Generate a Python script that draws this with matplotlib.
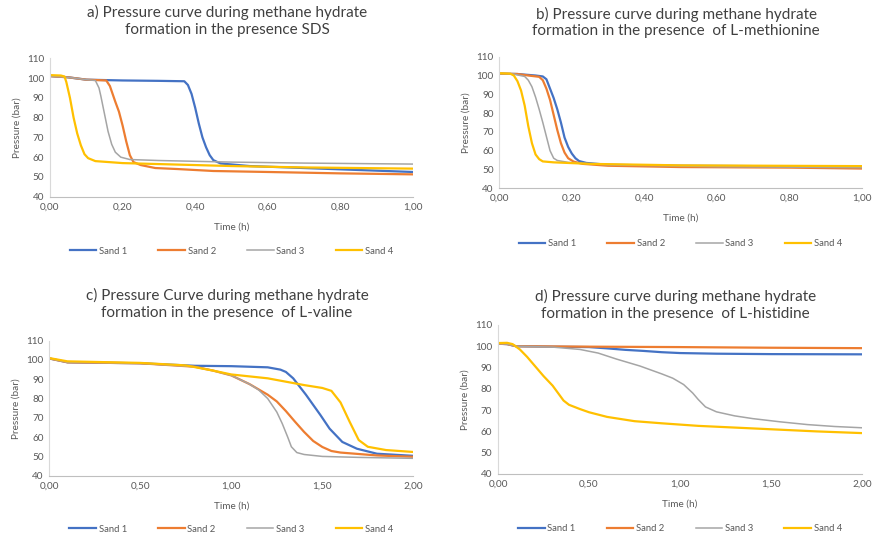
import matplotlib
matplotlib.use("Agg")
import matplotlib.pyplot as plt

plt.rcParams['font.family'] = ['Lato', 'DejaVu Sans']

series_names = ["Sand 1", "Sand 2", "Sand 3", "Sand 4"]
colors = ["#4472C4", "#ED7D31", "#A5A5A5", "#FFC000"]
widths = [1.6, 1.6, 1.1, 1.6]

# a) SDS
a_t1 = [0, 0.05, 0.10, 0.20, 0.30, 0.37, 0.38, 0.39, 0.40, 0.41, 0.42, 0.43, 0.44, 0.45, 0.47, 0.55, 0.70, 0.85, 1.00]
a_p1 = [101, 100.4, 99.2, 98.8, 98.6, 98.4, 96.5, 92, 85, 77, 70, 65, 61, 58.5, 56.8, 55.5, 54.5, 53.5, 52.5]
a_t2 = [0, 0.05, 0.10, 0.155, 0.165, 0.18, 0.19, 0.20, 0.21, 0.22, 0.23, 0.25, 0.29, 0.35, 0.45, 0.60, 0.80, 1.00]
a_p2 = [101, 100.4, 99.2, 98.8, 96, 88, 83, 76, 68, 61, 57.5, 56, 54.5, 54, 53, 52.5, 51.8, 51.3]
a_t3 = [0, 0.05, 0.10, 0.125, 0.135, 0.14, 0.15, 0.16, 0.17, 0.18, 0.195, 0.22, 0.30, 0.50, 0.70, 1.00]
a_p3 = [101, 100.4, 99.2, 98.8, 95, 91, 82, 73, 66.5, 62.5, 60, 58.8, 58.3, 57.5, 57, 56.5]
a_t4 = [0, 0.03, 0.04, 0.045, 0.055, 0.065, 0.075, 0.085, 0.095, 0.105, 0.125, 0.20, 0.30, 0.50, 0.70, 1.00]
a_p4 = [101.5, 101.3, 100.8, 98, 90, 80, 72, 66, 61.5, 59.5, 58, 57, 56.5, 55.5, 54.8, 54.2]

# b) L-methionine
b_t1 = [0, 0.05, 0.10, 0.12, 0.13, 0.14, 0.15, 0.16, 0.17, 0.18, 0.19, 0.20, 0.21, 0.22, 0.24, 0.30, 0.50, 0.80, 1.00]
b_p1 = [101, 100.8, 100, 99.5, 98, 93, 88, 82, 75, 67, 62, 58.5, 56, 54.5, 53.5, 52.5, 52, 51.7, 51.5]
b_t2 = [0, 0.05, 0.08, 0.11, 0.12, 0.13, 0.14, 0.15, 0.16, 0.17, 0.18, 0.19, 0.205, 0.23, 0.30, 0.50, 0.80, 1.00]
b_p2 = [101, 100.8, 100, 99.3, 97.5, 93, 87, 79, 71, 64, 59, 56, 54.2, 53, 52, 51.3, 51, 50.5]
b_t3 = [0, 0.04, 0.05, 0.07, 0.08, 0.09, 0.10, 0.11, 0.12, 0.13, 0.14, 0.15, 0.16, 0.19, 0.30, 0.60, 1.00]
b_p3 = [101, 100.8, 100.3, 99.5, 97.5, 94, 88.5, 82, 75, 67.5, 60, 56, 54.8, 53.8, 52.5, 51.5, 51]
b_t4 = [0, 0.03, 0.04, 0.05, 0.06, 0.07, 0.08, 0.09, 0.10, 0.11, 0.12, 0.15, 0.25, 0.50, 1.00]
b_p4 = [101.2, 101, 100, 97, 92, 84, 73, 64, 58, 55.5, 54.3, 53.8, 53, 52.2, 51.8]

# c) L-valine
c_t1 = [0, 0.05, 0.10, 0.50, 0.80, 1.00, 1.20, 1.27, 1.30, 1.34, 1.41, 1.49, 1.54, 1.61, 1.69, 1.80, 2.00]
c_p1 = [100.8, 99.8, 98.8, 98.3, 97, 96.8, 96.2, 95, 93.8, 90.5, 82, 71.4, 64.4, 57.5, 54, 51.4, 50.3]
c_t2 = [0, 0.10, 0.50, 0.80, 0.90, 1.00, 1.10, 1.20, 1.25, 1.30, 1.35, 1.40, 1.45, 1.50, 1.55, 1.60, 1.80, 2.00]
c_p2 = [100.8, 98.8, 98.3, 96.5, 94.5, 92, 87.5, 82, 78.5, 73.5, 68, 62.7, 58, 54.9, 52.8, 52, 50.5, 49.8]
c_t3 = [0, 0.10, 0.50, 0.80, 0.90, 1.00, 1.10, 1.15, 1.20, 1.25, 1.28, 1.31, 1.33, 1.36, 1.40, 1.50, 1.70, 2.00]
c_p3 = [100.8, 98.8, 98.3, 96.5, 94.5, 92, 87.5, 84.5, 80, 73, 67, 60, 55, 52, 51, 50, 49.5, 49]
c_t4 = [0, 0.10, 0.50, 0.75, 0.90, 1.00, 1.20, 1.40, 1.50, 1.55, 1.60, 1.65, 1.70, 1.75, 1.85, 2.00]
c_p4 = [101, 99.3, 98.5, 97.2, 94.5, 92.5, 90.5, 87, 85.5, 84, 78, 68, 58.5, 55, 53.3, 52.3]

# d) L-histidine
d_t1 = [0, 0.05, 0.10, 0.30, 0.50, 0.60, 0.70, 0.80, 0.90, 1.00, 1.20, 1.50, 2.00]
d_p1 = [101.2, 101, 100, 99.8, 99.6, 99, 98.3, 97.8, 97.2, 96.8, 96.5, 96.3, 96.2]
d_t2 = [0, 0.05, 0.10, 0.50, 1.00, 1.50, 2.00]
d_p2 = [101.2, 101, 100, 99.8, 99.6, 99.3, 99.1]
d_t3 = [0, 0.05, 0.10, 0.30, 0.45, 0.55, 0.65, 0.78, 0.90, 0.96, 1.02, 1.07, 1.10, 1.14, 1.20, 1.30, 1.40, 1.55, 1.70, 1.85, 2.00]
d_p3 = [101.2, 101, 100, 99.6, 98.5, 96.8, 94, 90.7, 87, 85, 82, 78, 75, 71.5, 69.2, 67.3, 66, 64.5, 63.2, 62.3, 61.7]
d_t4 = [0, 0.05, 0.08, 0.12, 0.16, 0.20, 0.25, 0.30, 0.33, 0.36, 0.39, 0.45, 0.50, 0.60, 0.75, 0.90, 1.10, 1.30, 1.50, 1.75, 2.00]
d_p4 = [101.5, 101.6, 101, 98.5, 95, 91, 86, 81.5, 78, 74.5, 72.5, 70.5, 69, 66.8, 64.8, 63.8, 62.6, 61.8, 61, 60, 59.2]

titles = [
    "a) Pressure curve during methane hydrate\nformation in the presence SDS",
    "b) Pressure curve during methane hydrate\nformation in the presence  of L-methionine",
    "c) Pressure Curve during methane hydrate\nformation in the presence  of L-valine",
    "d) Pressure curve during methane hydrate\nformation in the presence  of L-histidine",
]

fig = plt.figure(figsize=(8.74, 5.38), dpi=100)

panels = [
    # axes rect, title y, data, xticks, legend y
    ([0.0572, 0.6344, 0.4153, 0.2572], 0.990, [(a_t1, a_p1), (a_t2, a_p2), (a_t3, a_p3), (a_t4, a_p4)],
     [0, 0.2, 0.4, 0.6, 0.8, 1.0], -0.30),
    ([0.5713, 0.6500, 0.4146, 0.2446], 0.988, [(b_t1, b_p1), (b_t2, b_p2), (b_t3, b_p3), (b_t4, b_p4)],
     [0, 0.2, 0.4, 0.6, 0.8, 1.0], -0.32),
    ([0.0564, 0.1158, 0.4165, 0.2509], 0.465, [(c_t1, c_p1), (c_t2, c_p2), (c_t3, c_p3), (c_t4, c_p4)],
     [0, 0.5, 1.0, 1.5, 2.0], -0.30),
    ([0.5698, 0.1190, 0.4165, 0.2770], 0.463, [(d_t1, d_p1), (d_t2, d_p2), (d_t3, d_p3), (d_t4, d_p4)],
     [0, 0.5, 1.0, 1.5, 2.0], -0.28),
]

for (rect, title_y, data, xticks, leg_y), title in zip(panels, titles):
    ax = fig.add_axes(rect)
    for (t, p), name, c, w in zip(data, series_names, colors, widths):
        ax.plot(t, p, color=c, lw=w, label=name)
    ax.set_xlim(xticks[0], xticks[-1])
    ax.set_ylim(40, 110)
    ax.set_xticks(xticks)
    ax.set_xticklabels([("%.2f" % v).replace(".", ",") for v in xticks])
    ax.set_yticks(range(40, 111, 10))
    ax.tick_params(length=0, labelsize=7.2, labelcolor="#595959", pad=4)
    for s in ["top", "right"]:
        ax.spines[s].set_visible(False)
    ax.spines["left"].set_color("#D9D9D9")
    ax.spines["bottom"].set_color("#BFBFBF")
    ax.set_xlabel("Time (h)", fontsize=7.2, color="#595959", labelpad=8)
    ax.set_ylabel("Pressure (bar)", fontsize=7.2, color="#595959", labelpad=4)
    fig.text(rect[0] + rect[2] / 2 - 0.005, title_y, title, ha="center", va="top",
             fontsize=11, color="#404040", linespacing=1.25)
    ax.legend(loc="upper center", bbox_to_anchor=(0.5, leg_y), ncol=4, frameon=False,
              fontsize=6.8, labelcolor="#595959", handlelength=2.8, columnspacing=3.3,
              handletextpad=0.3)

plt.savefig("out.png", dpi=100)
